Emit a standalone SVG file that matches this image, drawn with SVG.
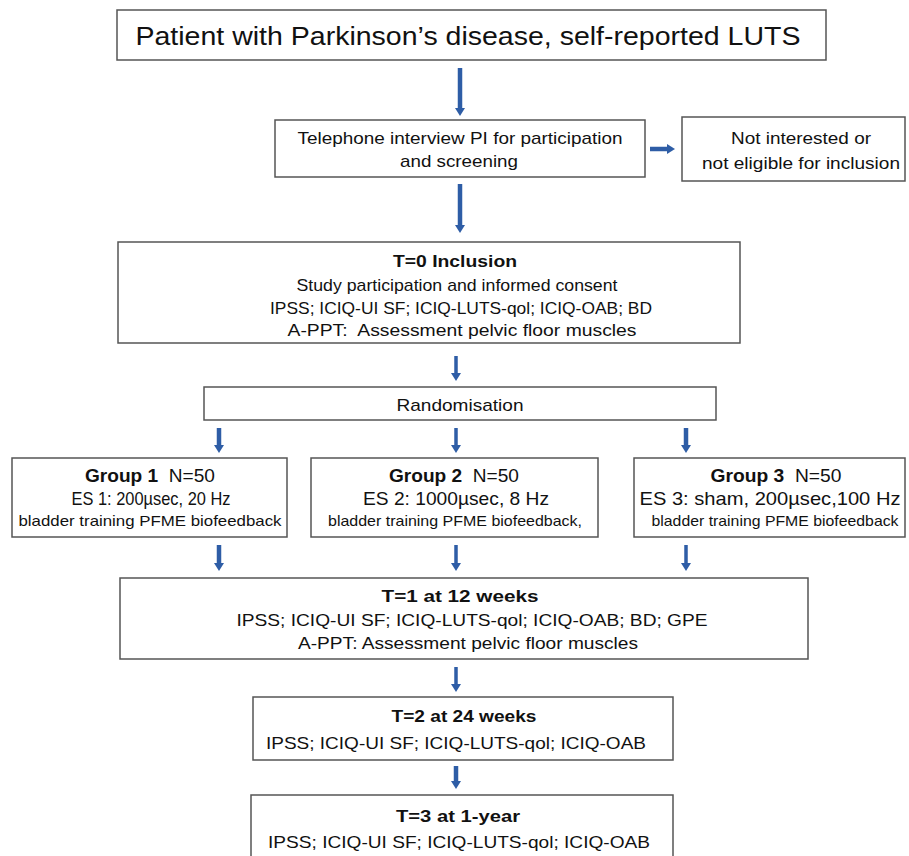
<svg xmlns="http://www.w3.org/2000/svg" width="909" height="856" viewBox="0 0 909 856">
<style>
.box{fill:#fff;stroke:#555;stroke-width:1.5}
text{font-family:"Liberation Sans",Arial,sans-serif;fill:#111;text-anchor:middle;white-space:pre}
.b{font-weight:bold}
.arr{stroke:#2E5DA6;stroke-width:4.5;fill:none}
.arr2{stroke:#2E5DA6;stroke-width:3.5;fill:none}
</style>
<defs>
<marker id="ah" markerUnits="userSpaceOnUse" markerWidth="12" markerHeight="10" refX="2" refY="5" orient="auto">
<path d="M0,0 L8,5 L0,10 Z" fill="#2E5DA6"/>
</marker>
</defs>
<rect width="909" height="856" fill="#fff"/>

<g id="connectors">
<line class="arr" x1="460" y1="68" x2="460" y2="110" marker-end="url(#ah)"/>
<line class="arr" x1="650" y1="149" x2="669" y2="149" marker-end="url(#ah)"/>
<line class="arr" x1="460" y1="184" x2="460" y2="227" marker-end="url(#ah)"/>
<line class="arr2" x1="456" y1="356" x2="456" y2="375" marker-end="url(#ah)"/>
<line class="arr" x1="219" y1="428" x2="219" y2="447" marker-end="url(#ah)"/>
<line class="arr2" x1="456" y1="428" x2="456" y2="447" marker-end="url(#ah)"/>
<line class="arr" x1="686" y1="428" x2="686" y2="447" marker-end="url(#ah)"/>
<line class="arr" x1="219" y1="545" x2="219" y2="565" marker-end="url(#ah)"/>
<line class="arr2" x1="456" y1="545" x2="456" y2="565" marker-end="url(#ah)"/>
<line class="arr2" x1="686" y1="545" x2="686" y2="565" marker-end="url(#ah)"/>
<line class="arr2" x1="456" y1="667" x2="456" y2="686" marker-end="url(#ah)"/>
<line class="arr" x1="456" y1="766" x2="456" y2="783" marker-end="url(#ah)"/>
</g>

<g id="patient">
<rect class="box" x="117" y="10" width="709" height="50"/>
<text x="468" y="45" font-size="26" textLength="665" lengthAdjust="spacingAndGlyphs">Patient with Parkinson’s disease, self-reported LUTS</text>
</g>

<g id="telephone">
<rect class="box" x="275" y="120" width="370" height="57"/>
<text x="460" y="144" font-size="17" textLength="325" lengthAdjust="spacingAndGlyphs">Telephone interview PI for participation</text>
<text x="459" y="167" font-size="17" textLength="118" lengthAdjust="spacingAndGlyphs">and screening</text>
</g>

<g id="excluded">
<rect class="box" x="682" y="117" width="223" height="64"/>
<text x="801" y="144" font-size="17" textLength="140" lengthAdjust="spacingAndGlyphs">Not interested or</text>
<text x="801" y="169" font-size="17" textLength="198" lengthAdjust="spacingAndGlyphs">not eligible for inclusion</text>
</g>

<g id="t0">
<rect class="box" x="118" y="242" width="622" height="101"/>
<text class="b" x="455" y="267" font-size="17" textLength="124" lengthAdjust="spacingAndGlyphs">T=0 Inclusion</text>
<text x="457" y="291" font-size="17" textLength="321" lengthAdjust="spacingAndGlyphs">Study participation and informed consent</text>
<text x="461" y="314" font-size="17" textLength="382" lengthAdjust="spacingAndGlyphs">IPSS; ICIQ-UI SF; ICIQ-LUTS-qol; ICIQ-OAB; BD</text>
<text x="462" y="336" font-size="17" textLength="349" lengthAdjust="spacingAndGlyphs">A-PPT:  Assessment pelvic floor muscles</text>
</g>

<g id="randomisation">
<rect class="box" x="204" y="387" width="512" height="33"/>
<text x="460" y="411" font-size="17" textLength="127" lengthAdjust="spacingAndGlyphs">Randomisation</text>
</g>

<g id="group1">
<rect class="box" x="12" y="458" width="275" height="79"/>
<text class="b" x="150" y="482" font-size="18" textLength="130" lengthAdjust="spacingAndGlyphs">Group 1  <tspan font-weight="normal">N=50</tspan></text>
<text x="151" y="505" font-size="19" textLength="159" lengthAdjust="spacingAndGlyphs">ES 1: 200µsec, 20 Hz</text>
<text x="150" y="526" font-size="15" textLength="263" lengthAdjust="spacingAndGlyphs">bladder training PFME biofeedback</text>
</g>

<g id="group2">
<rect class="box" x="311" y="458" width="287" height="79"/>
<text class="b" x="454" y="482" font-size="18" textLength="130" lengthAdjust="spacingAndGlyphs">Group 2  <tspan font-weight="normal">N=50</tspan></text>
<text x="456" y="505" font-size="19" textLength="186" lengthAdjust="spacingAndGlyphs">ES 2: 1000µsec, 8 Hz</text>
<text x="455" y="526" font-size="15" textLength="254" lengthAdjust="spacingAndGlyphs">bladder training PFME biofeedback,</text>
</g>

<g id="group3">
<rect class="box" x="634" y="458" width="271" height="79"/>
<text class="b" x="776" y="482" font-size="18" textLength="131" lengthAdjust="spacingAndGlyphs">Group 3  <tspan font-weight="normal">N=50</tspan></text>
<text x="770" y="505" font-size="19" textLength="261" lengthAdjust="spacingAndGlyphs">ES 3: sham, 200µsec,100 Hz</text>
<text x="775" y="526" font-size="15" textLength="247" lengthAdjust="spacingAndGlyphs">bladder training PFME biofeedback</text>
</g>

<g id="t1">
<rect class="box" x="120" y="578" width="688" height="81"/>
<text class="b" x="460" y="602" font-size="17" textLength="157" lengthAdjust="spacingAndGlyphs">T=1 at 12 weeks</text>
<text x="472" y="626" font-size="17" textLength="471" lengthAdjust="spacingAndGlyphs">IPSS; ICIQ-UI SF; ICIQ-LUTS-qol; ICIQ-OAB; BD; GPE</text>
<text x="468" y="649" font-size="17" textLength="340" lengthAdjust="spacingAndGlyphs">A-PPT: Assessment pelvic floor muscles</text>
</g>

<g id="t2">
<rect class="box" x="253" y="697" width="420" height="63"/>
<text class="b" x="464" y="722" font-size="17" textLength="145" lengthAdjust="spacingAndGlyphs">T=2 at 24 weeks</text>
<text x="456" y="749" font-size="17" textLength="380" lengthAdjust="spacingAndGlyphs">IPSS; ICIQ-UI SF; ICIQ-LUTS-qol; ICIQ-OAB</text>
</g>

<g id="t3">
<rect class="box" x="251" y="795" width="422" height="70"/>
<text class="b" x="458" y="822" font-size="17" textLength="124" lengthAdjust="spacingAndGlyphs">T=3 at 1-year</text>
<text x="459" y="848" font-size="17" textLength="382" lengthAdjust="spacingAndGlyphs">IPSS; ICIQ-UI SF; ICIQ-LUTS-qol; ICIQ-OAB</text>
</g>
</svg>
